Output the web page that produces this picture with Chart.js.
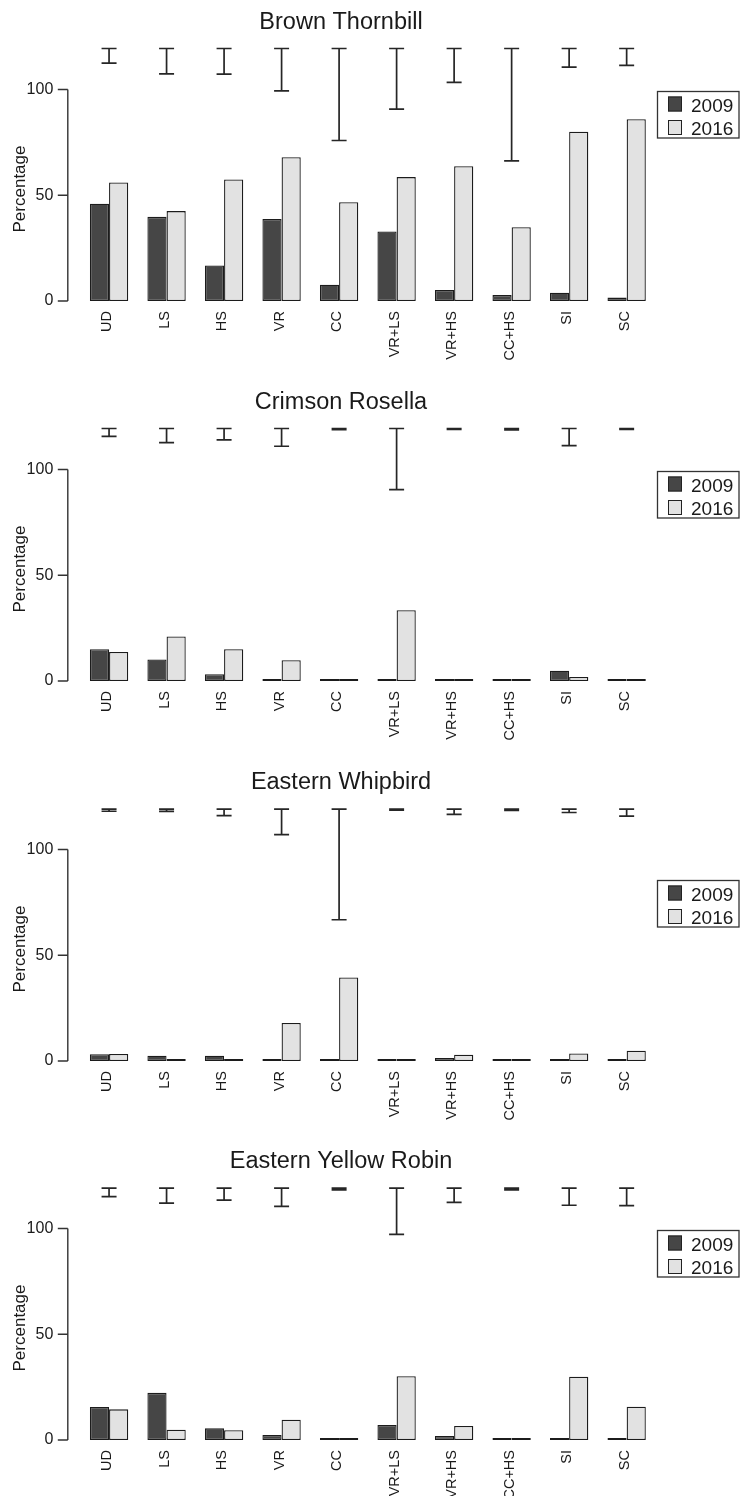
<!DOCTYPE html>
<html>
<head>
<meta charset="utf-8">
<title>Bird occurrence 2009 vs 2016</title>
<script src="https://cdn.jsdelivr.net/npm/chart.js@4.4.1/dist/chart.umd.min.js"></script>
<style>
  html, body { margin: 0; padding: 0; background: #fff; overflow: hidden; }
  #wrap { position: relative; width: 740px; height: 1496px; }
  #wrap canvas { position: absolute; left: 0; }
</style>
</head>
<body>
<div id="wrap">
  <canvas id="c0" width="740" height="380" style="top:0px"></canvas>
  <canvas id="c1" width="740" height="380" style="top:380px"></canvas>
  <canvas id="c2" width="740" height="380" style="top:760px"></canvas>
  <canvas id="c3" width="740" height="380" style="top:1139px"></canvas>
</div>
<script>
// ==========================================
// Data
// ==========================================
const treatments = ['UD', 'LS', 'HS', 'VR', 'CC', 'VR+LS', 'VR+HS', 'CC+HS', 'SI', 'SC'];
const years = ['2009', '2016'];
const yTicks = [0, 50, 100];

// Brown Thornbill
const thornbill2009 = [46, 39.8, 16.8, 38.8, 7.7, 32.9, 5.2, 2.8, 3.9, 1.6];
const thornbill2016 = [56, 42.5, 57.5, 68, 46.7, 58.6, 63.7, 34.9, 80, 86];
const thornbillErrLow = [112.5, 107.4, 107.3, 99.4, 75.9, 90.7, 103.4, 66.3, 110.6, 111.4];
const thornbillErrHigh = [119.4, 119.4, 119.4, 119.4, 119.4, 119.4, 119.4, 119.4, 119.4, 119.4];

// Crimson Rosella
const rosella2009 = [15, 10.2, 3.2, 0.5, 0, 0, 0, 0, 4.9, 0];
const rosella2016 = [13.7, 21.1, 15, 9.8, 0, 33.5, 0, 0, 1.9, 0];
const rosellaErrLow = [115.7, 112.7, 114, 111, 118.8, 90.5, 119, 118.7, 111.3, 119];
const rosellaErrHigh = [119.4, 119.4, 119.4, 119.4, 119.4, 119.4, 119.4, 119.4, 119.4, 119.4];

// Eastern Whipbird
const whipbird2009 = [3.2, 2.5, 2.5, 0.8, 0.5, 0, 1.4, 0, 0, 0];
const whipbird2016 = [3.3, 0, 0.5, 18, 39.5, 0, 3, 0, 3.6, 4.9];
const whipbirdErrLow = [118.1, 118, 116, 107, 66.8, 118.6, 116.6, 118.5, 117.5, 115.8];
const whipbirdErrHigh = [119.1, 119.1, 119.1, 119.1, 119.1, 119.1, 119.1, 119.1, 119.1, 119.1];

// Eastern Yellow Robin
const robin2009 = [15.6, 22.3, 5.5, 2.4, 0, 7.1, 1.9, 0, 0.5, 0];
const robin2016 = [14.5, 4.9, 4.6, 9.6, 0, 30.2, 6.6, 0, 29.9, 15.7];
const robinErrLow = [115.1, 112, 113.4, 110.5, 118.3, 97.2, 112.4, 118.3, 111, 110.8];
const robinErrHigh = [119.1, 119.1, 119.1, 119.1, 119.1, 119.1, 119.1, 119.1, 119.1, 119.1];

const panels = [
  { id: 'c0', title: 'Brown Thornbill', v2009: thornbill2009, v2016: thornbill2016, errLow: thornbillErrLow, errHigh: thornbillErrHigh, legendTop: 91 },
  { id: 'c1', title: 'Crimson Rosella', v2009: rosella2009, v2016: rosella2016, errLow: rosellaErrLow, errHigh: rosellaErrHigh, legendTop: 91 },
  { id: 'c2', title: 'Eastern Whipbird', v2009: whipbird2009, v2016: whipbird2016, errLow: whipbirdErrLow, errHigh: whipbirdErrHigh, legendTop: 120 },
  { id: 'c3', title: 'Eastern Yellow Robin', v2009: robin2009, v2016: robin2016, errLow: robinErrLow, errHigh: robinErrHigh, legendTop: 91 }
];

// ==========================================
// Styling
// ==========================================
const FONT = "'Liberation Sans', Arial, Helvetica, sans-serif";
const DARK = '#464646';
const LIGHT = '#e2e2e2';
const INK = '#1a1a1a';

Chart.defaults.font.family = FONT;
Chart.defaults.color = INK;
Chart.defaults.animation = false;

// Axis line, ticks, error bars, titles and boxed legend (R barplot look)
function makeDecor(panel) {
  return {
    id: 'decor',
    afterDatasetsDraw(chart) {
      const { ctx } = chart;
      const x = chart.scales.x;
      const y = chart.scales.y;

      ctx.save();
      // error bars
      ctx.strokeStyle = '#262626';
      ctx.lineWidth = 1.7;
      panel.errLow.forEach((lo, i) => {
        const cx = x.getPixelForValue(i);
        const yTop = y.getPixelForValue(panel.errHigh[i]);
        const yBot = y.getPixelForValue(lo);
        ctx.beginPath();
        ctx.moveTo(cx, yTop); ctx.lineTo(cx, yBot);
        ctx.moveTo(cx - 7.5, yTop); ctx.lineTo(cx + 7.5, yTop);
        ctx.moveTo(cx - 7.5, yBot); ctx.lineTo(cx + 7.5, yBot);
        ctx.stroke();
      });

      // y axis line from 0 to 100 with outward ticks
      const ax = x.left - 12.5;
      ctx.strokeStyle = '#333';
      ctx.lineWidth = 1.4;
      ctx.beginPath();
      ctx.moveTo(ax, y.getPixelForValue(yTicks[0]));
      ctx.lineTo(ax, y.getPixelForValue(yTicks[yTicks.length - 1]));
      yTicks.forEach(v => {
        const py = y.getPixelForValue(v);
        ctx.moveTo(ax - 10, py); ctx.lineTo(ax, py);
      });
      ctx.stroke();

      // y axis title
      ctx.fillStyle = INK;
      ctx.font = '17px ' + FONT;
      ctx.save();
      ctx.translate(25, 189);
      ctx.rotate(-Math.PI / 2);
      ctx.textAlign = 'center';
      ctx.textBaseline = 'alphabetic';
      ctx.fillText('Percentage', 0, 0);
      ctx.restore();

      // chart title
      ctx.font = '23.5px ' + FONT;
      ctx.textAlign = 'center';
      ctx.textBaseline = 'alphabetic';
      ctx.fillText(panel.title, 341, 28.5);

      // legend box
      const lt = panel.legendTop;
      ctx.strokeStyle = '#333';
      ctx.lineWidth = 1.3;
      ctx.strokeRect(657.5, lt + 0.5, 81.5, 46.5);
      ctx.font = '19px ' + FONT;
      ctx.textAlign = 'left';
      chart.data.datasets.forEach((ds, i) => {
        const sy = lt + 5.5 + i * 23.5;
        ctx.fillStyle = ds.backgroundColor;
        ctx.fillRect(668, sy, 14, 15);
        ctx.strokeStyle = '#222';
        ctx.lineWidth = 1;
        ctx.strokeRect(668.5, sy + 0.5, 13, 14);
        ctx.fillStyle = INK;
        ctx.fillText(ds.label, 691, sy + 15);
      });
      ctx.restore();
    }
  };
}

function drawPanel(panel) {
  const ctx = document.getElementById(panel.id);
  new Chart(ctx, {
    type: 'bar',
    data: {
      labels: treatments,
      datasets: [
        { label: years[0], data: panel.v2009, backgroundColor: DARK },
        { label: years[1], data: panel.v2016, backgroundColor: LIGHT }
      ]
    },
    options: {
      responsive: false,
      maintainAspectRatio: false,
      devicePixelRatio: 1,
      layout: { padding: { top: 43, right: 84.6, bottom: 0, left: 0 } },
      datasets: {
        bar: {
          categoryPercentage: 2 / 3,
          barPercentage: 1,
          borderColor: '#1c1c1c',
          borderWidth: 1.3,
          borderSkipped: false,
          minBarLength: 2
        }
      },
      plugins: {
        legend: { display: false },
        tooltip: { enabled: false },
        title: { display: false }
      },
      scales: {
        x: {
          offset: true,
          grid: { display: false, drawTicks: false },
          border: { display: false },
          ticks: {
            autoSkip: false,
            minRotation: 90,
            maxRotation: 90,
            padding: 10,
            labelOffset: -2,
            color: INK,
            font: { size: 14.5 }
          },
          afterFit: s => { s.height = 79; }
        },
        y: {
          min: 0,
          max: 122,
          grid: { display: false, drawTicks: false },
          border: { display: false },
          ticks: {
            padding: 27,
            color: INK,
            font: { size: 16 }
          },
          afterBuildTicks: s => { s.ticks = yTicks.map(v => ({ value: v })); },
          afterFit: s => { s.width = 80.3; }
        }
      }
    },
    plugins: [makeDecor(panel)]
  });
}

// Initialize
panels.forEach(drawPanel);
</script>
</body>
</html>
